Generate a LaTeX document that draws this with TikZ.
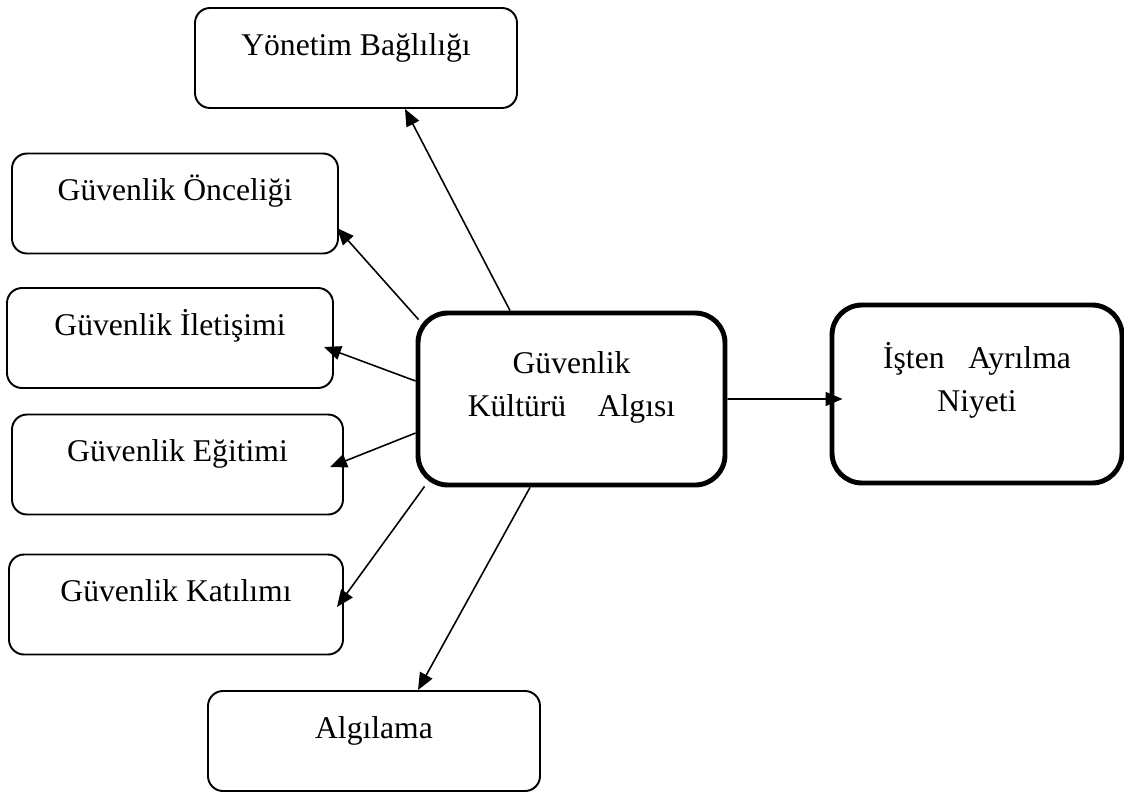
\documentclass[tikz,border=0pt]{standalone}
\usepackage{fontspec}
\setmainfont{Liberation Serif}
\usetikzlibrary{arrows.meta}
\tikzset{box/.style={rectangle,draw,rounded corners=0.3cm,line width=1.1pt,inner sep=0pt,text height=0.94cm,text depth=1.06cm,font=\fontsize{18}{24.5}\selectfont},
bigbox/.style={box,rounded corners=0.6cm,line width=2.8pt}}

\begin{document}
\begin{tikzpicture}[arr/.style={-{Triangle[length=0.34cm,width=0.28cm]},line width=0.9pt}]
        \useasboundingbox (0,0) rectangle (22.48,-15.84);
        \node[box,minimum width=6.44cm] (yb) at (7.12,-1.16) {Yönetim Bağlılığı};
        \node[box,minimum width=6.52cm] (go) at (3.5,-4.07) {Güvenlik Önceliği};
        \node[box,minimum width=6.52cm] (gi) at (3.4,-6.76) {Güvenlik İletişimi};
        \node[box,minimum width=6.62cm] (ge) at (3.55,-9.29) {Güvenlik Eğitimi};
        \node[box,minimum width=6.68cm] (gk) at (3.52,-12.09) {Güvenlik Katılımı};
        \node[box,minimum width=6.64cm] (alg) at (7.48,-14.82) {Algılama};
        \node[bigbox,minimum width=6.14cm,text height=1.2cm,text depth=2.24cm] (gkal) at (11.43,-7.98)
            {\begin{tabular}[t]{@{}c@{}}Güvenlik\\Kültürü~~~~Algısı\end{tabular}};
        \node[bigbox,minimum width=5.8cm,text height=1.26cm,text depth=2.3cm] (ian) at (19.54,-7.88)
            {\begin{tabular}[t]{@{}c@{}}İşten~~~Ayrılma\\Niyeti\end{tabular}};

        \draw[arr] ([xshift=-1.23cm]gkal.north) -- ([xshift=0.98cm]yb.south);
        \draw[arr] ([xshift=0.06cm,yshift=-0.18cm]gkal.north west) -- ([xshift=-0.04cm,yshift=-0.49cm]go.east);
        \draw[arr] ([yshift=0.36cm]gkal.west) -- ([xshift=-0.2cm,yshift=-0.18cm]gi.east);
        \draw[arr] ([yshift=-0.68cm]gkal.west) -- ([xshift=-0.28cm,yshift=-0.05cm]ge.east);
        \draw[arr] ([xshift=0.18cm,yshift=0.02cm]gkal.south west) -- ([xshift=-0.14cm,yshift=-0.05cm]gk.east);
        \draw[arr] ([xshift=-0.83cm]gkal.south) -- ([xshift=0.88cm]alg.north);
        \draw[arr] (gkal.east) -- ([xshift=0.26cm,yshift=-0.1cm]ian.west);
    \end{tikzpicture}
\end{document}
